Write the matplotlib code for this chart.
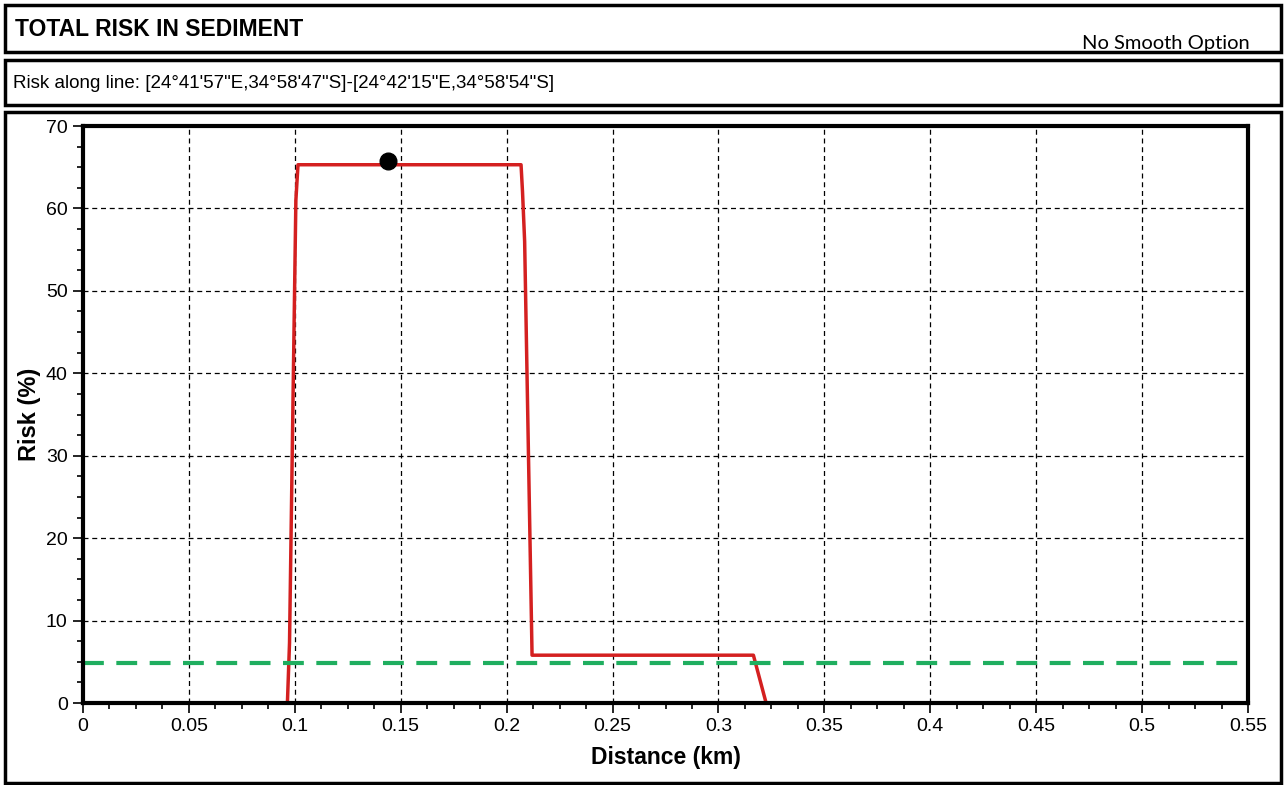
import numpy as np
import matplotlib
matplotlib.use("Agg")
import matplotlib.pyplot as plt
from matplotlib.patches import Rectangle
from matplotlib.ticker import MultipleLocator

# risk profile along the line (km, %)
distance = [0.0965, 0.0975, 0.1005, 0.1015, 0.2068, 0.2075, 0.2085, 0.2120, 0.3165, 0.3225]
risk = [0.0, 7.3, 61.0, 65.3, 65.3, 62.0, 56.0, 5.8, 5.8, 0.0]
max_point = (0.144, 65.7)
threshold = 4.8
xtick_labels = ['0', '0.05', '0.1', '0.15', '0.2', '0.25', '0.3', '0.35', '0.4', '0.45', '0.5', '0.55']

plt.rcParams['font.family'] = ['Liberation Sans', 'DejaVu Sans']
fig = plt.figure(figsize=(12.85, 7.85), dpi=100)
W, H = 1285, 785

def box(x0, y0, x1, y1):
    fig.add_artist(Rectangle((x0 / W, 1 - y1 / H), (x1 - x0) / W, (y1 - y0) / H,
                             transform=fig.transFigure, fill=False, lw=2.5, ec='black'))

box(5, 5, 1281, 52)
box(5, 60, 1281, 105)
box(5, 112, 1281, 783)

fig.text(15 / W, 1 - 29 / H, "TOTAL RISK IN SEDIMENT", fontsize=16.5, fontweight='bold', va='center')
fig.text(1250 / W, 1 - 43 / H, "No Smooth Option", fontsize=14.5, family=['Lato', 'DejaVu Sans'],
         ha='right', va='center')
fig.text(13 / W, 1 - 84 / H, "Risk along line: [24°41'57\"E,34°58'47\"S]-[24°42'15\"E,34°58'54\"S]",
         fontsize=13.5, va='center')

ax = fig.add_axes([83 / W, 1 - 703 / H, (1248 - 83) / W, (703 - 126) / H])
ax.plot(distance, risk, color='#d42020', lw=2.5)
ax.axhline(threshold, color='#1fae5f', lw=3, ls=(0, (5, 3)))
ax.plot(*max_point, 'o', color='black', ms=12)

ax.set_xlim(0, 0.55)
ax.set_ylim(0, 70)
ax.xaxis.set_minor_locator(MultipleLocator(0.0125))
ax.yaxis.set_major_locator(MultipleLocator(10))
ax.yaxis.set_minor_locator(MultipleLocator(2.5))
ax.set_xticks(np.arange(0, 0.551, 0.05))
ax.set_xticklabels(xtick_labels)
ax.grid(True, which='major', color='black', ls=(0, (4, 3)), lw=0.9)
ax.tick_params(which='major', length=7, width=1.2, labelsize=14, pad=4)
ax.tick_params(which='minor', length=4, width=1.2)
for s in ax.spines.values():
    s.set_linewidth(3)

ax.set_xlabel("Distance (km)", fontsize=16.5, fontweight='bold', labelpad=8)
ax.set_ylabel("Risk (%)", fontsize=17, fontweight='bold')
ax.yaxis.set_label_coords(-0.036, 0.5)

fig.savefig("out.png", dpi=100)
